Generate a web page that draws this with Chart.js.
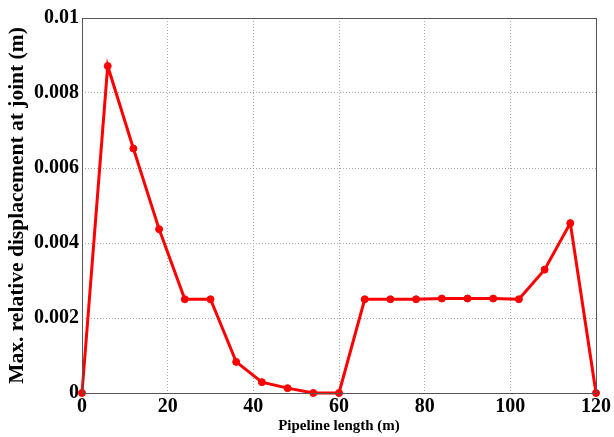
<!DOCTYPE html>
<html>
<head>
<meta charset="utf-8">
<script src="https://cdn.jsdelivr.net/npm/chart.js@4"></script>
<style>
  html, body { margin: 0; padding: 0; background: #fff; }
  #wrap { width: 614px; height: 437px; }
</style>
</head>
<body>
<div id="wrap"><canvas id="chart" width="614" height="437"></canvas></div>
<script>
const lengths = [0, 6, 12, 18, 24, 30, 36, 42, 48, 54, 60, 66, 72, 78, 84, 90, 96, 102, 108, 114, 120];
const displacement = [0, 0.00872, 0.00652, 0.00437, 0.0025, 0.0025, 0.00083, 0.00029, 0.00013, 0, 0,
    0.0025, 0.0025, 0.0025, 0.00252, 0.00252, 0.00252, 0.0025, 0.00329, 0.00453, 0];

document.addEventListener('DOMContentLoaded', () => {
    const font = 'Liberation Serif';

    // box around the plot area, like the matlab axes
    const frame = {
        id: 'frame',
        afterDraw(chart) {
            const {ctx, chartArea: a} = chart;
            ctx.save();
            ctx.strokeStyle = '#555';
            ctx.lineWidth = 1;
            ctx.strokeRect(a.left + 0.5, a.top + 0.5, a.right - a.left, a.bottom - a.top);
            ctx.restore();
        }
    };

    const config = {
        type: 'line',
        data: {
            datasets: [{
                data: lengths.map((x, i) => ({x: x, y: displacement[i]})),
                borderColor: '#ff0000',
                backgroundColor: '#ff0000',
                borderWidth: 3,
                pointRadius: 3.5,
                pointBorderWidth: 1,
                tension: 0,
                fill: false,
                clip: false
            }]
        },
        options: {
            responsive: false,
            animation: false,
            layout: { padding: { left: 0, right: 18, top: 18, bottom: 2 } },
            plugins: {
                legend: { display: false },
                tooltip: { enabled: false }
            },
            scales: {
                x: {
                    type: 'linear',
                    min: 0,
                    max: 120,
                    ticks: {
                        stepSize: 20,
                        color: '#000',
                        padding: 2,
                        font: { family: font, size: 20, weight: 'bold' }
                    },
                    grid: { color: '#aaa', drawTicks: false },
                    border: { display: false, dash: [1, 2] },
                    title: {
                        display: true,
                        text: 'Pipeline length (m)',
                        color: '#000',
                        padding: 0,
                        font: { family: font, size: 15, weight: 'bold' }
                    },
                    afterFit(scale) { scale.height = 42; }
                },
                y: {
                    min: 0,
                    max: 0.01,
                    ticks: {
                        stepSize: 0.002,
                        color: '#000',
                        padding: 3,
                        font: { family: font, size: 20, weight: 'bold' },
                        callback: (v) => String(+v.toFixed(3))
                    },
                    grid: { color: '#aaa', drawTicks: false },
                    border: { display: false, dash: [1, 2] },
                    title: {
                        display: true,
                        text: 'Max. relative displacement at joint (m)',
                        color: '#000',
                        padding: { top: 5, bottom: 0 },
                        font: { family: font, size: 21.5, weight: 'bold' }
                    },
                    afterFit(scale) { scale.width = 82; }
                }
            }
        },
        plugins: [frame]
    };

    const ctx = document.getElementById('chart').getContext('2d');
    new Chart(ctx, config);
});
</script>
</body>
</html>
